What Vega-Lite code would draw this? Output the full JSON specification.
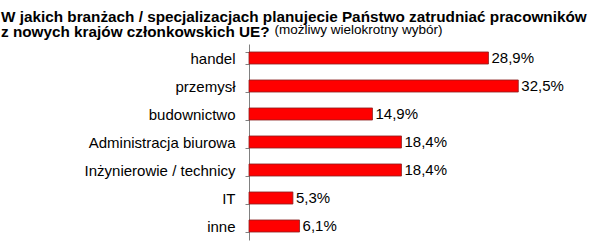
{
  "$schema": "https://vega.github.io/schema/vega-lite/v6.json",
  "width": 290,
  "height": 196,
  "autosize": {"type": "none"},
  "padding": {"left": 249, "top": 44, "right": 55, "bottom": 7},
  "background": "white",
  "config": {
    "view": {"stroke": null},
    "font": "Liberation Sans",
    "locale": {"number": {"decimal": ",", "thousands": " ", "grouping": [3], "currency": ["", " zł"]}}
  },
  "title": {
    "text": "W jakich branżach / specjalizacjach planujecie Państwo zatrudniać pracowników",
    "subtitle": "z nowych krajów członkowskich UE?",
    "anchor": "start",
    "frame": "group",
    "dx": -248,
    "dy": 28,
    "offset": 10,
    "font": "Liberation Sans",
    "fontSize": 15.3,
    "fontWeight": "bold",
    "color": "#000000",
    "subtitleFont": "Liberation Sans",
    "subtitleFontSize": 15.3,
    "subtitleFontWeight": "bold",
    "subtitleColor": "#000000",
    "subtitlePadding": 0
  },
  "data": {
    "values": [
      {"kategoria": "handel", "wartosc": 0.289},
      {"kategoria": "przemysł", "wartosc": 0.325},
      {"kategoria": "budownictwo", "wartosc": 0.149},
      {"kategoria": "Administracja biurowa", "wartosc": 0.184},
      {"kategoria": "Inżynierowie / technicy", "wartosc": 0.184},
      {"kategoria": "IT", "wartosc": 0.053},
      {"kategoria": "inne", "wartosc": 0.061}
    ]
  },
  "encoding": {
    "y": {
      "field": "kategoria",
      "type": "nominal",
      "sort": null,
      "scale": {"paddingInner": 0.57, "paddingOuter": 0.285},
      "axis": {
        "title": null,
        "domainColor": "#808080",
        "tickColor": "#808080",
        "tickSize": 4,
        "tickBand": "extent",
        "labelPadding": 10,
        "labelFontSize": 15,
        "labelColor": "#000000",
        "labelFont": "Liberation Sans",
        "labelLimit": 300
      }
    },
    "x": {
      "field": "wartosc",
      "type": "quantitative",
      "scale": {"domain": [0, 0.35], "nice": false},
      "axis": {
        "orient": "top",
        "domain": false,
        "ticks": false,
        "labels": false,
        "grid": false,
        "title": "(możliwy wielokrotny wybór)",
        "titleX": 25,
        "titleY": -10.5,
        "titleAlign": "left",
        "titleAnchor": null,
        "titleBaseline": "alphabetic",
        "titleFontWeight": "normal",
        "titleFontSize": 13.5,
        "titleFont": "Liberation Sans",
        "titleColor": "#000000"
      }
    }
  },
  "layer": [
    {
      "mark": {"type": "bar", "color": "#ff0000", "stroke": "#8a2020", "strokeWidth": 0.8}
    },
    {
      "mark": {"type": "text", "align": "left", "baseline": "middle", "dx": 3, "fontSize": 15, "color": "#000000", "font": "Liberation Sans"},
      "encoding": {"text": {"field": "wartosc", "type": "quantitative", "format": ".1%"}}
    }
  ]
}
